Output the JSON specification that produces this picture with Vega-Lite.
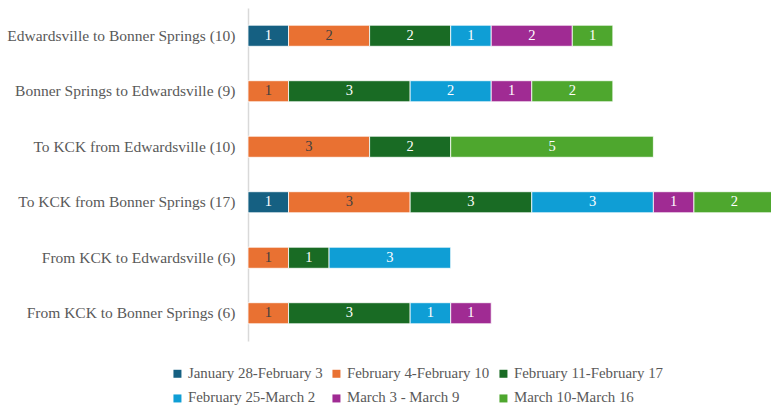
{
  "$schema": "https://vega.github.io/schema/vega-lite/v6.json",
  "autosize": "none",
  "width": 527,
  "height": 333,
  "padding": {"left": 248, "top": 8, "right": 0, "bottom": 68},
  "background": "white",
  "config": {
    "view": {"stroke": null},
    "font": "Liberation Serif"
  },
  "data": {
    "values": [
      {"route": "Edwardsville to Bonner Springs (10)", "week": 1, "period": "January 28-February 3", "n": 1},
      {"route": "Edwardsville to Bonner Springs (10)", "week": 2, "period": "February 4-February 10", "n": 2},
      {"route": "Edwardsville to Bonner Springs (10)", "week": 3, "period": "February 11-February 17", "n": 2},
      {"route": "Edwardsville to Bonner Springs (10)", "week": 4, "period": "February 25-March 2", "n": 1},
      {"route": "Edwardsville to Bonner Springs (10)", "week": 5, "period": "March 3 - March 9", "n": 2},
      {"route": "Edwardsville to Bonner Springs (10)", "week": 6, "period": "March 10-March 16", "n": 1},
      {"route": "Bonner Springs to Edwardsville (9)", "week": 2, "period": "February 4-February 10", "n": 1},
      {"route": "Bonner Springs to Edwardsville (9)", "week": 3, "period": "February 11-February 17", "n": 3},
      {"route": "Bonner Springs to Edwardsville (9)", "week": 4, "period": "February 25-March 2", "n": 2},
      {"route": "Bonner Springs to Edwardsville (9)", "week": 5, "period": "March 3 - March 9", "n": 1},
      {"route": "Bonner Springs to Edwardsville (9)", "week": 6, "period": "March 10-March 16", "n": 2},
      {"route": "To KCK from Edwardsville (10)", "week": 2, "period": "February 4-February 10", "n": 3},
      {"route": "To KCK from Edwardsville (10)", "week": 3, "period": "February 11-February 17", "n": 2},
      {"route": "To KCK from Edwardsville (10)", "week": 6, "period": "March 10-March 16", "n": 5},
      {"route": "To KCK from Bonner Springs (17)", "week": 1, "period": "January 28-February 3", "n": 1},
      {"route": "To KCK from Bonner Springs (17)", "week": 2, "period": "February 4-February 10", "n": 3},
      {"route": "To KCK from Bonner Springs (17)", "week": 3, "period": "February 11-February 17", "n": 3},
      {"route": "To KCK from Bonner Springs (17)", "week": 4, "period": "February 25-March 2", "n": 3},
      {"route": "To KCK from Bonner Springs (17)", "week": 5, "period": "March 3 - March 9", "n": 1},
      {"route": "To KCK from Bonner Springs (17)", "week": 6, "period": "March 10-March 16", "n": 2},
      {"route": "From KCK to Edwardsville (6)", "week": 2, "period": "February 4-February 10", "n": 1},
      {"route": "From KCK to Edwardsville (6)", "week": 3, "period": "February 11-February 17", "n": 1},
      {"route": "From KCK to Edwardsville (6)", "week": 4, "period": "February 25-March 2", "n": 3},
      {"route": "From KCK to Bonner Springs (6)", "week": 2, "period": "February 4-February 10", "n": 1},
      {"route": "From KCK to Bonner Springs (6)", "week": 3, "period": "February 11-February 17", "n": 3},
      {"route": "From KCK to Bonner Springs (6)", "week": 4, "period": "February 25-March 2", "n": 1},
      {"route": "From KCK to Bonner Springs (6)", "week": 5, "period": "March 3 - March 9", "n": 1}
    ]
  },
  "encoding": {
    "y": {
      "field": "route", "type": "nominal", "sort": null, "title": null,
      "scale": {"paddingInner": 0.62, "paddingOuter": 0.31},
      "axis": {
        "domainColor": "#d9d9d9", "domainWidth": 1.5, "ticks": false,
        "labelFont": "Liberation Serif", "labelFontSize": 15.5, "labelColor": "#595959",
        "labelPadding": 13, "labelLimit": 400
      }
    }
  },
  "layer": [
    {
      "mark": {"type": "bar", "stroke": "white", "strokeWidth": 0.8},
      "encoding": {
        "x": {"field": "n", "type": "quantitative", "stack": "zero", "axis": null, "scale": {"domain": [0, 13], "nice": false}},
        "color": {
          "field": "period", "type": "nominal", "title": null,
          "scale": {
            "domain": ["January 28-February 3", "February 4-February 10", "February 11-February 17", "February 25-March 2", "March 3 - March 9", "March 10-March 16"],
            "range": ["#156082", "#e97132", "#196b24", "#0f9ed5", "#a02b93", "#4ea72e"]
          },
          "legend": {
            "orient": "none", "legendX": -78, "legendY": 358, "columns": 3, "direction": "horizontal",
            "symbolType": "square", "symbolSize": 64, "symbolStrokeWidth": 0,
            "labelFont": "Liberation Serif", "labelFontSize": 14.9, "labelColor": "#595959",
            "labelOffset": 3, "columnPadding": 6, "rowPadding": 9, "labelLimit": 300
          }
        },
        "order": {"field": "week", "type": "quantitative"}
      }
    },
    {
      "mark": {"type": "text", "font": "Liberation Serif", "fontSize": 14.5},
      "encoding": {
        "x": {"field": "n", "type": "quantitative", "stack": "zero", "bandPosition": 0.5},
        "text": {"field": "n", "type": "quantitative"},
        "detail": {"field": "period"},
        "order": {"field": "week", "type": "quantitative"},
        "color": {
          "condition": {"test": "datum.week === 2", "value": "#404040"},
          "value": "white"
        }
      }
    }
  ]
}
